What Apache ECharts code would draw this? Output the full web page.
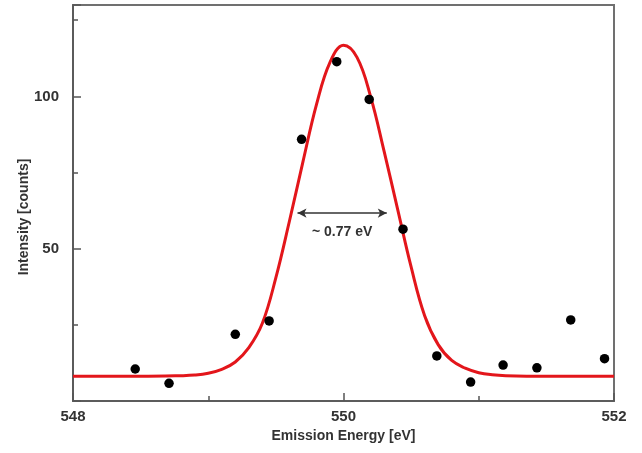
<!DOCTYPE html>
<html>
<head>
<meta charset="utf-8">
<script src="https://cdn.jsdelivr.net/npm/echarts@6/dist/echarts.min.js"></script>
<style>
html,body{margin:0;padding:0;background:#fff;}
#chart{width:642px;height:453px;}
</style>
</head>
<body>
<div id="chart"></div>
<script>
// Measured data points (Emission energy [eV], Intensity [counts])
const energy = [548.46, 548.71, 549.20, 549.45, 549.69, 549.95, 550.19, 550.44, 550.69, 550.94, 551.18, 551.43, 551.68, 551.93];
const counts = [10.5, 5.8, 21.9, 26.3, 85.9, 111.4, 99.0, 56.4, 14.8, 6.2, 11.8, 10.9, 26.6, 13.9];

// Fit curve
const fitEnergy = [548.0, 548.5, 548.8, 548.9, 549.0, 549.1, 549.2, 549.3, 549.4, 549.5, 549.6, 549.7, 549.8, 549.9, 550.0, 550.1, 550.2, 550.3, 550.4, 550.5, 550.6, 550.7, 550.8, 550.9, 551.0, 551.1, 551.2, 551.5, 552.0];
const fitCounts = [8.1, 8.1, 8.3, 8.5, 9.1, 10.4, 12.8, 17.5, 25.5, 40.5, 59, 78.5, 97.3, 111.2, 116.8, 112.8, 100.0, 82, 63, 44, 28, 18.5, 13.3, 10.8, 9.3, 8.6, 8.3, 8.1, 8.1];

// FWHM annotation
const fwhmStart = [549.66, 61.7];
const fwhmEnd = [550.32, 61.7];
const fwhmLabel = '~ 0.77 eV';

// Tick labels
const xTickLabels = [548, 550, 552];
const yTickLabels = [50, 100];

const FONT = '"Liberation Sans", Arial, sans-serif';
const chart = echarts.init(document.getElementById('chart'), null, {renderer: 'canvas'});

chart.setOption({
  animation: false,
  backgroundColor: '#fff',
  grid: {left: 73, right: 28, top: 5, bottom: 52, show: true, borderColor: '#707070', borderWidth: 2, backgroundColor: 'transparent'},
  xAxis: {
    type: 'value', min: 548, max: 552, interval: 2,
    name: 'Emission Energy [eV]', nameLocation: 'middle', nameGap: 28,
    nameTextStyle: {fontFamily: FONT, fontSize: 14, fontWeight: 'bold', color: '#333'},
    axisLine: {show: true, lineStyle: {color: '#555', width: 1.5}},
    axisTick: {show: true, inside: true, length: 8, lineStyle: {color: '#555', width: 1.5}},
    minorTick: {show: true, splitNumber: 2, length: 5, lineStyle: {color: '#555', width: 1.5}},
    splitLine: {show: false},
    axisLabel: {
      margin: 8, fontFamily: FONT, fontSize: 15, fontWeight: 'bold', color: '#333',
      showMinLabel: true, showMaxLabel: true,
      formatter: v => xTickLabels.includes(v) ? String(v) : ''
    }
  },
  yAxis: [{
    type: 'value', min: 0, max: 130, interval: 50,
    axisLine: {show: true, lineStyle: {color: '#555', width: 1.5}},
    axisTick: {show: true, inside: true, length: 8, lineStyle: {color: '#555', width: 1.5}},
    splitLine: {show: false},
    axisLabel: {
      margin: 14, fontFamily: FONT, fontSize: 15, fontWeight: 'bold', color: '#333',
      formatter: v => yTickLabels.includes(v) ? String(v) : ''
    }
  }, {
    type: 'value', min: 0, max: 130, interval: 25, position: 'left',
    axisLine: {show: false},
    axisTick: {show: true, inside: true, length: 5, lineStyle: {color: '#555', width: 1.5}},
    splitLine: {show: false},
    axisLabel: {show: false}
  }],
  graphic: [{
    type: 'text', x: 24, y: 217, rotation: Math.PI / 2,
    style: {text: 'Intensity [counts]', align: 'center', verticalAlign: 'middle',
      font: 'bold 14px ' + FONT, fill: '#333'}
  }],
  series: [{
    type: 'line', name: 'fit',
    data: fitEnergy.map((x, i) => [x, fitCounts[i]]),
    smooth: 0.4, showSymbol: false, symbol: 'none',
    lineStyle: {color: '#e3161b', width: 3},
    z: 2
  }, {
    type: 'scatter', name: 'data',
    data: energy.map((x, i) => [x, counts[i]]),
    symbol: 'circle', symbolSize: 9.5,
    itemStyle: {color: '#000', opacity: 1},
    z: 3,
    markLine: {
      silent: true, symbol: ['arrow', 'arrow'], symbolSize: [7, 9],
      lineStyle: {color: '#333', width: 1.5, type: 'solid'},
      label: {show: true, position: 'insideMiddleBottom', distance: 12, formatter: fwhmLabel,
        fontFamily: FONT, fontSize: 14, fontWeight: 'bold', color: '#333'},
      data: [[{coord: fwhmStart}, {coord: fwhmEnd}]]
    }
  }]
});
</script>
</body>
</html>
